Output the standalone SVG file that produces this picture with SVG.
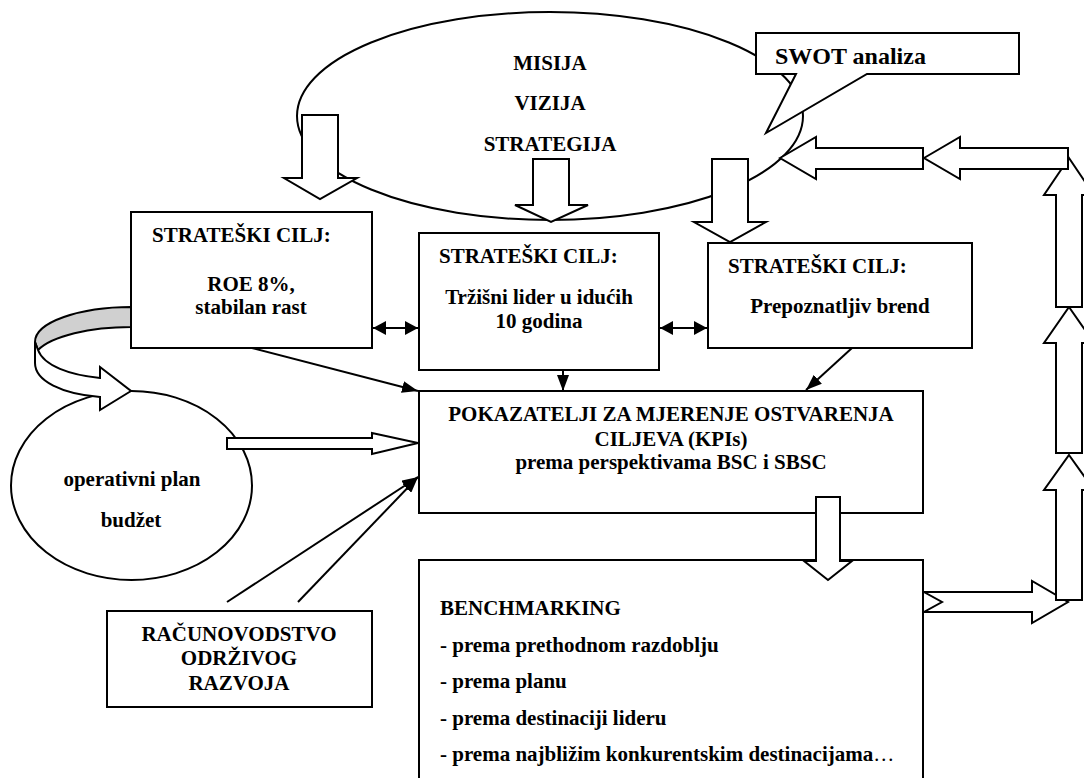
<svg xmlns="http://www.w3.org/2000/svg" width="1084" height="778" viewBox="0 0 1084 778">
<style>
.s{fill:#fff;stroke:#000;stroke-width:2}
.t{font-family:"Liberation Serif","Times New Roman",serif;font-weight:bold;font-size:21px;fill:#000}
.c{text-anchor:middle}
.ln{stroke:#000;stroke-width:2;fill:none}
</style>
<defs>
<marker id="ah" viewBox="0 0 16 12" refX="16" refY="6" markerWidth="16" markerHeight="12" markerUnits="userSpaceOnUse" orient="auto"><path d="M0,0 L16,6 L0,12 Z" fill="#000"/></marker>
<marker id="dh" viewBox="0 0 13 14" refX="13" refY="7" markerWidth="13" markerHeight="14" markerUnits="userSpaceOnUse" orient="auto-start-reverse"><path d="M0,0 L13,7 L0,14 Z" fill="#000"/></marker>
</defs>
<rect width="1084" height="778" fill="#fff"/>

<g id="mission">
<ellipse class="s" cx="550" cy="116" rx="253" ry="104"/>
<text class="t c" x="550" y="70">MISIJA</text>
<text class="t c" x="550" y="110">VIZIJA</text>
<text class="t c" x="550" y="151">STRATEGIJA</text>
</g>

<g id="block-arrows">
<path class="s" d="M302,115 H338 V178 H357 L320,199 L284,178 H302 Z"/>
<path class="s" d="M533,159 H569 V205 H588 L551,222 L515,205 H533 Z"/>
<path class="s" d="M712,159 H748 V222 H766 L730,242 L694,222 H712 Z"/>
<path class="s" d="M924,592 H1032 V581 L1068,602 L1032,623 V612 H924 L942,602 Z"/>
<path class="s" d="M1069,455 L1094,490 H1082 V600 H1056 V490 H1044 Z"/>
<path class="s" d="M1069,307 L1094,343 H1082 V453 H1056 V343 H1044 Z"/>
<path class="s" d="M1069,158 L1094,195 H1082 V307 H1056 V195 H1044 Z"/>
<path class="s" d="M924,158 L960,137 V148 H1068 V169 H960 V179 Z"/>
<path class="s" d="M780,158 L816,137 V148 H923 V169 H816 V179 Z"/>
</g>

<g id="swot">
<path class="s" d="M756,33 H1019 V74 H867 L766,133 L796,74 H756 Z"/>
<text class="t" x="775" y="64" style="font-size:24px">SWOT analiza</text>
</g>

<g id="goal1">
<rect class="s" x="131" y="212" width="241" height="136"/>
<text class="t" x="152" y="242">STRATEŠKI CILJ:</text>
<text class="t c" x="251" y="291">ROE 8%,</text>
<text class="t c" x="251" y="314">stabilan rast</text>
</g>

<g id="goal2">
<rect class="s" x="419" y="233" width="240" height="137"/>
<text class="t" x="439" y="263">STRATEŠKI CILJ:</text>
<text class="t c" x="539" y="304">Tržišni lider u idućih</text>
<text class="t c" x="539" y="328">10 godina</text>
</g>

<g id="goal3">
<rect class="s" x="708" y="243" width="264" height="105"/>
<text class="t" x="728" y="273">STRATEŠKI CILJ:</text>
<text class="t c" x="840" y="313">Prepoznatljiv brend</text>
</g>

<g id="kpi">
<rect class="s" x="419" y="391" width="504" height="122"/>
<text class="t c" x="671" y="421">POKAZATELJI ZA MJERENJE OSTVARENJA</text>
<text class="t c" x="671" y="446">CILJEVA (KPIs)</text>
<text class="t c" x="671" y="469">prema perspektivama BSC i SBSC</text>
</g>

<g id="benchmarking">
<rect class="s" x="419" y="560" width="504" height="240"/>
<text class="t" x="440" y="615">BENCHMARKING</text>
<text class="t" x="440" y="652">- prema prethodnom razdoblju</text>
<text class="t" x="440" y="688">- prema planu</text>
<text class="t" x="440" y="725">- prema destinaciji lideru</text>
<text class="t" x="440" y="761">- prema najbližim konkurentskim destinacijama<tspan font-weight="normal">…</tspan></text>
</g>

<g id="kpi-down-arrow">
<path class="s" d="M816,497 H840 V561 H852 L828,580 L804,561 H816 Z"/>
</g>

<g id="operativni">
<ellipse class="s" cx="131.5" cy="485.5" rx="120.5" ry="94.5"/>
<text class="t c" x="132" y="486">operativni plan</text>
<text class="t c" x="131" y="527">budžet</text>
</g>

<g id="curved-arrow">
<path d="M131,307 C80,307 35,322 35,342 L38,350 C52,336 90,327 131,327 Z" fill="#d0d0d0" stroke="#000" stroke-width="2" stroke-linejoin="round"/>
<path class="s" d="M35,342 L35,363 C35,381 62,394 100,397 L100,410 L131,391 L100,367 L100,378 C70,375 44,366 38,350 Z"/>
</g>

<g id="plan-arrow">
<path class="s" d="M227,438 H372 V433 L418,443 L372,454 V449 H227 Z"/>
</g>

<g id="racunovodstvo">
<rect class="s" x="107" y="611" width="265" height="96"/>
<text class="t c" x="239" y="641">RAČUNOVODSTVO</text>
<text class="t c" x="239" y="665">ODRŽIVOG</text>
<text class="t c" x="239" y="690">RAZVOJA</text>
</g>

<g id="connectors">
<line class="ln" x1="252" y1="348" x2="418" y2="391" marker-end="url(#ah)"/>
<line class="ln" x1="563" y1="370" x2="563" y2="391" marker-end="url(#ah)"/>
<line class="ln" x1="852" y1="348" x2="806" y2="390" marker-end="url(#ah)"/>
<line class="ln" x1="227" y1="602" x2="418" y2="477" marker-end="url(#ah)"/>
<line class="ln" x1="298" y1="602" x2="418" y2="477" marker-end="url(#ah)"/>
<line class="ln" x1="373" y1="328" x2="418" y2="328" marker-start="url(#dh)" marker-end="url(#dh)"/>
<line class="ln" x1="660" y1="328" x2="707" y2="328" marker-start="url(#dh)" marker-end="url(#dh)"/>
</g>
</svg>
